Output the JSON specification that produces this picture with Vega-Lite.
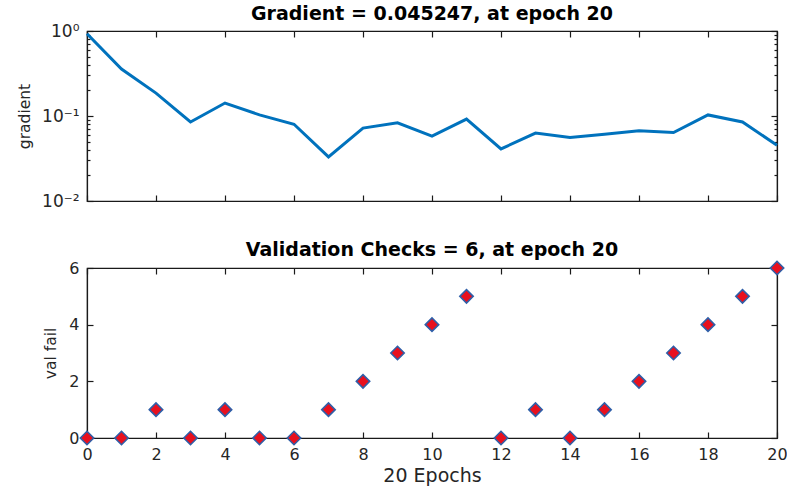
{
  "$schema": "https://vega.github.io/schema/vega-lite/v6.json",
  "padding": {"left": 16, "top": 4, "right": 0, "bottom": 0},
  "background": "white",
  "spacing": 30,
  "config": {
    "font": "DejaVu Sans",
    "view": {"stroke": "#1a1a1a", "strokeWidth": 1.2},
    "title": {"fontSize": 19, "fontWeight": "bold", "color": "#000000", "offset": -2, "font": "DejaVu Sans"},
    "axis": {
      "grid": false,
      "labelFlush": false,
      "labelOverlap": false,
      "domainColor": "#1a1a1a",
      "domainWidth": 1.2,
      "tickColor": "#1a1a1a",
      "tickWidth": 1.2,
      "tickSize": -6,
      "labelPadding": 14,
      "labelColor": "#262626",
      "labelFontSize": 16,
      "labelFont": "DejaVu Sans",
      "titleColor": "#262626",
      "titleFontWeight": "normal",
      "titleFont": "DejaVu Sans",
      "titleFontSize": 15.5
    }
  },
  "vconcat": [
    {
      "width": 690,
      "height": 170,
      "title": {"text": "Gradient = 0.045247, at epoch 20"},
      "data": {"values": [
        {"epoch": 0, "gradient": 0.93},
        {"epoch": 1, "gradient": 0.357},
        {"epoch": 2, "gradient": 0.186},
        {"epoch": 3, "gradient": 0.085},
        {"epoch": 4, "gradient": 0.142},
        {"epoch": 5, "gradient": 0.103},
        {"epoch": 6, "gradient": 0.080},
        {"epoch": 7, "gradient": 0.033},
        {"epoch": 8, "gradient": 0.072},
        {"epoch": 9, "gradient": 0.083},
        {"epoch": 10, "gradient": 0.058},
        {"epoch": 11, "gradient": 0.092},
        {"epoch": 12, "gradient": 0.041},
        {"epoch": 13, "gradient": 0.063},
        {"epoch": 14, "gradient": 0.056},
        {"epoch": 15, "gradient": 0.061},
        {"epoch": 16, "gradient": 0.067},
        {"epoch": 17, "gradient": 0.064},
        {"epoch": 18, "gradient": 0.103},
        {"epoch": 19, "gradient": 0.085},
        {"epoch": 20, "gradient": 0.045247}
      ]},
      "layer": [
        {
          "mark": {"type": "line", "color": "#0072BD", "strokeWidth": 3},
          "encoding": {
            "x": {"field": "epoch", "type": "quantitative", "scale": {"domain": [0, 20], "nice": false, "zero": false},
                  "axis": {"orient": "bottom", "values": [0,2,4,6,8,10,12,14,16,18,20], "labels": false, "title": null}},
            "y": {"field": "gradient", "type": "quantitative", "scale": {"type": "log", "domain": [0.01, 1], "nice": false},
                  "axis": {"orient": "left", "values": [0.01, 0.1, 1], "title": "gradient", "titlePadding": 9, "labelFontSize": 17,
                           "labelExpr": "datum.value >= 0.5 ? '10⁰' : (datum.value >= 0.05 ? '10⁻¹' : '10⁻²')"}}
          }
        },
        {
          "mark": {"type": "line", "opacity": 0},
          "encoding": {
            "x": {"field": "epoch", "type": "quantitative",
                  "axis": {"orient": "top", "values": [0,2,4,6,8,10,12,14,16,18,20], "labels": false, "title": null}},
            "y": {"field": "gradient", "type": "quantitative",
                  "axis": {"orient": "right", "values": [0.01, 0.1, 1], "labels": false, "title": null}}
          }
        },
        {
          "mark": {"type": "line", "opacity": 0},
          "encoding": {
            "x": {"field": "epoch", "type": "quantitative", "axis": null},
            "y": {"field": "gradient", "type": "quantitative",
                  "axis": {"orient": "left", "values": [0.02,0.03,0.04,0.05,0.06,0.07,0.08,0.09,0.2,0.3,0.4,0.5,0.6,0.7,0.8,0.9],
                           "labels": false, "title": null, "domain": false, "tickSize": -3}}
          }
        },
        {
          "mark": {"type": "line", "opacity": 0},
          "encoding": {
            "x": {"field": "epoch", "type": "quantitative", "axis": null},
            "y": {"field": "gradient", "type": "quantitative",
                  "axis": {"orient": "right", "values": [0.02,0.03,0.04,0.05,0.06,0.07,0.08,0.09,0.2,0.3,0.4,0.5,0.6,0.7,0.8,0.9],
                           "labels": false, "title": null, "domain": false, "tickSize": -3}}
          }
        }
      ]
    },
    {
      "width": 690,
      "height": 170,
      "title": {"text": "Validation Checks = 6, at epoch 20"},
      "data": {"values": [
        {"epoch": 0, "valfail": 0},
        {"epoch": 1, "valfail": 0},
        {"epoch": 2, "valfail": 1},
        {"epoch": 3, "valfail": 0},
        {"epoch": 4, "valfail": 1},
        {"epoch": 5, "valfail": 0},
        {"epoch": 6, "valfail": 0},
        {"epoch": 7, "valfail": 1},
        {"epoch": 8, "valfail": 2},
        {"epoch": 9, "valfail": 3},
        {"epoch": 10, "valfail": 4},
        {"epoch": 11, "valfail": 5},
        {"epoch": 12, "valfail": 0},
        {"epoch": 13, "valfail": 1},
        {"epoch": 14, "valfail": 0},
        {"epoch": 15, "valfail": 1},
        {"epoch": 16, "valfail": 2},
        {"epoch": 17, "valfail": 3},
        {"epoch": 18, "valfail": 4},
        {"epoch": 19, "valfail": 5},
        {"epoch": 20, "valfail": 6}
      ]},
      "layer": [
        {
          "mark": {"type": "point", "shape": "diamond", "filled": true, "fill": "#E8101E", "stroke": "#2F5FA8", "strokeWidth": 1.6, "size": 180, "opacity": 1},
          "encoding": {
            "x": {"field": "epoch", "type": "quantitative", "scale": {"domain": [0, 20], "nice": false, "zero": false},
                  "axis": {"orient": "bottom", "values": [0,2,4,6,8,10,12,14,16,18,20], "title": "20 Epochs", "titleFontSize": 19, "titlePadding": 4}},
            "y": {"field": "valfail", "type": "quantitative", "scale": {"domain": [0, 6], "nice": false},
                  "axis": {"orient": "left", "values": [0, 2, 4, 6], "title": "val fail", "titlePadding": 10}}
          }
        },
        {
          "mark": {"type": "point", "opacity": 0},
          "encoding": {
            "x": {"field": "epoch", "type": "quantitative",
                  "axis": {"orient": "top", "values": [0,2,4,6,8,10,12,14,16,18,20], "labels": false, "title": null}},
            "y": {"field": "valfail", "type": "quantitative",
                  "axis": {"orient": "right", "values": [0, 2, 4, 6], "labels": false, "title": null}}
          }
        }
      ]
    }
  ]
}
